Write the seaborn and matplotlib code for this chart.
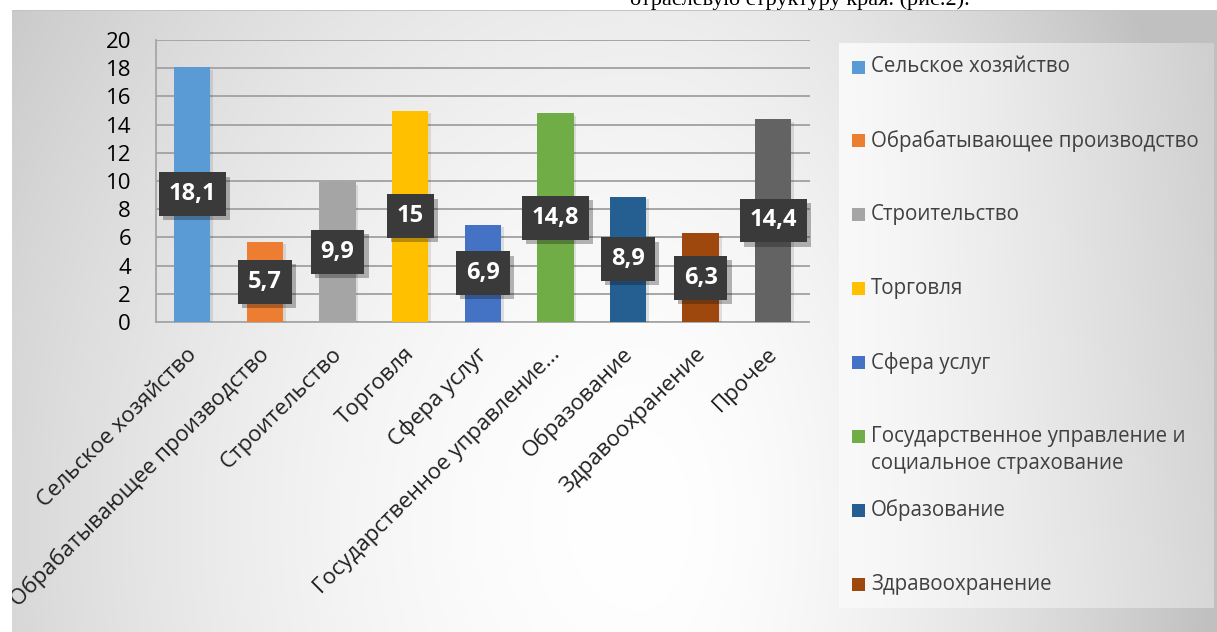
import numpy as np
import pandas as pd
import matplotlib
matplotlib.use('Agg')
import matplotlib.pyplot as plt
import matplotlib.patheffects as pe
from matplotlib.patches import Rectangle
from matplotlib.transforms import ScaledTranslation
import seaborn as sns

# Datos: estructura sectorial (%)
categorias = ['Сельское хозяйство', 'Обрабатывающее производство', 'Строительство',
              'Торговля', 'Сфера услуг',
              'Государственное управление и социальное страхование',
              'Образование', 'Здравоохранение', 'Прочее']
valores = [18.1, 5.7, 9.9, 15, 6.9, 14.8, 8.9, 6.3, 14.4]
etiquetas_x = ['Сельское хозяйство', 'Обрабатывающее производство', 'Строительство',
               'Торговля', 'Сфера услуг', 'Государственное управление...',
               'Образование', 'Здравоохранение', 'Прочее']
etiquetas_leyenda = ['Сельское хозяйство', 'Обрабатывающее производство', 'Строительство',
                     'Торговля', 'Сфера услуг',
                     'Государственное управление и\nсоциальное страхование',
                     'Образование', 'Здравоохранение']
colores = ['#5B9BD5', '#ED7D31', '#A5A5A5', '#FFC000', '#4472C4',
           '#70AD47', '#255E91', '#9E480E', '#636363']
ticks_y = [0, 2, 4, 6, 8, 10, 12, 14, 16, 18, 20]

sns.set_style('white')
plt.rcParams['font.family'] = ['Open Sans', 'DejaVu Sans']

W, H = 1217, 632
fig = plt.figure(figsize=(W / 100, H / 100), dpi=100)

# Fondo con degradado radial (como el grafico original de Excel)
yy, xx = np.mgrid[0:H, 0:W].astype(float)
dx = xx - 640
escala_x = np.where(dx < 0, 812.0, 556.0)
r2 = (dx / escala_x) ** 2 + ((yy - 520) / 1010.0) ** 2
fondo = np.clip(255 - 60 * r2 ** 0.85, 192, 255)

# caja de la leyenda
en_caja = (xx >= 839) & (xx <= 1213) & (yy >= 43) & (yy <= 607)
lx = np.clip((xx - 839) / 374.0, 0, 1)
ly = np.clip((yy - 43) / 564.0, 0, 1)
caja = 249 - 34 * lx ** 1.3 - 8 * (1 - ly) * lx
fondo = np.where(en_caja, caja, fondo)

fondo[:10, :] = 255
fondo[:, :12] = 255
fondo[10, 12:] = 195
img = np.dstack([fondo, fondo, fondo]) / 255.0

bg = fig.add_axes([0, 0, 1, 1], zorder=-10)
bg.imshow(img, extent=(0, W, H, 0), aspect='auto', interpolation='bilinear')
bg.set_xlim(0, W)
bg.set_ylim(H, 0)
bg.set_axis_off()

# texto cortado del documento
bg.text(630, 5, 'отраслевую структуру края. (рис.2).', fontsize=16,
        family=['Liberation Serif', 'DejaVu Serif'], va='baseline', ha='left', color='black')

# Grafico de barras
ax = fig.add_axes([156 / W, 1 - 322 / H, (809.5 - 156) / W, (322 - 40) / H])
ax.patch.set_alpha(0)

df = pd.DataFrame({'sector': categorias, 'valor': valores})
sns.barplot(data=df, x='sector', y='valor', hue='sector', palette=colores,
            saturation=1, width=0.5, legend=False, ax=ax, zorder=3,
            edgecolor='none', linewidth=0)

for barra in ax.patches:
    barra.set_path_effects([pe.SimplePatchShadow(offset=(2, -2), alpha=0.12), pe.Normal()])

ax.set_xlim(-0.5, len(categorias) - 0.5)
ax.set_ylim(0, 20)
ax.set_yticks(ticks_y)
ax.yaxis.grid(True, color='#a6a6a6', linewidth=1.4, zorder=0)
ax.set_axisbelow(True)
ax.set_xlabel('')
ax.set_ylabel('')

for lado in ['top', 'right']:
    ax.spines[lado].set_visible(False)
for lado in ['left', 'bottom']:
    ax.spines[lado].set_color('#a6a6a6')
    ax.spines[lado].set_linewidth(1.3)

ax.tick_params(axis='y', length=6, width=1.2, color='#a6a6a6', labelsize=16,
               labelcolor='black', pad=12)
ax.set_xticks(range(len(categorias)))
ax.set_xticklabels(etiquetas_x, rotation=45, ha='right', va='center',
                   rotation_mode='anchor', fontsize=16, color='#202020')
ax.set_xticks(np.arange(-0.5, len(categorias), 1), minor=True)
ax.tick_params(axis='x', which='major', length=0, pad=21)
ax.tick_params(axis='x', which='minor', length=6, width=1.2, color='#a6a6a6')

# recorte de las etiquetas al marco del grafico
marco = Rectangle((12, 10), W - 12, H - 10, transform=bg.transData)
for lbl in ax.get_xticklabels():
    lbl.set_transform(lbl.get_transform() + ScaledTranslation(1 / 72, 0, fig.dpi_scale_trans))
    lbl.set_clip_on(True)
    lbl.set_clip_path(marco)

# Etiquetas de datos en el centro de cada barra
for i, v in enumerate(valores):
    texto = f'{v:g}'.replace('.', ',')
    t = ax.text(i, v / 2, texto, ha='center', va='center', color='white',
                fontsize=17, fontweight='bold', zorder=6,
                bbox=dict(boxstyle='square,pad=0.42', fc='#3a3a3a', ec='none', lw=0))
    t.get_bbox_patch().set_path_effects(
        [pe.SimplePatchShadow(offset=(3, -3), alpha=0.3), pe.Normal()])

# Leyenda (a la derecha, dentro de su caja)
for i, (nombre, color) in enumerate(zip(etiquetas_leyenda, colores)):
    y = 67 + 73.9 * i
    bg.add_patch(Rectangle((852, y - 6.5), 13, 13, facecolor=color, edgecolor='none'))
    for k, linea in enumerate(nombre.split('\n')):
        bg.text(871, y + 27 * k, linea, va='center', ha='left',
                fontsize=14.8, color='#404040')

fig.savefig('out.png', dpi=100)
